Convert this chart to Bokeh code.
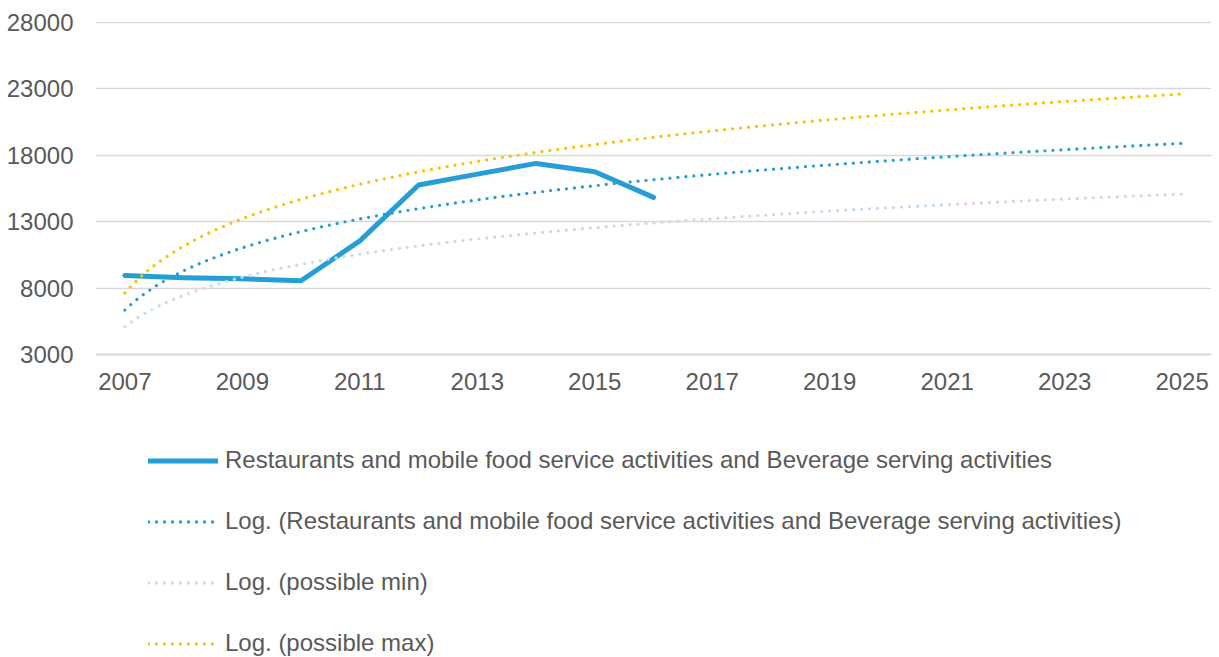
import numpy as np
from bokeh.plotting import figure
from bokeh.models import Legend, LegendItem, FixedTicker, ColumnDataSource
from bokeh.embed import file_html
from bokeh.resources import INLINE

# ---- data ----
years = [2007, 2008, 2009, 2010, 2011, 2012, 2013, 2014, 2015, 2016]
restaurants = [8950, 8780, 8700, 8550, 11560, 15760, 16580, 17390, 16760, 14830]

# trendline values of the two (hidden) bounds, read at each year
trend_years = list(range(2007, 2026))
possible_min_trend = [5100, 7450, 8820, 9800, 10560, 11170, 11700, 12150, 12550, 12910,
                      13230, 13520, 13800, 14050, 14280, 14500, 14700, 14900, 15080]
possible_max_trend = [7630, 11160, 13220, 14690, 15820, 16750, 17540, 18210, 18810, 19350,
                      19840, 20280, 20690, 21060, 21410, 21740, 22050, 22340, 22620]

x_ticks = [2007, 2009, 2011, 2013, 2015, 2017, 2019, 2021, 2023, 2025]
y_ticks = [3000, 8000, 13000, 18000, 23000, 28000]

labels = [
    "Restaurants and mobile food service activities and Beverage serving activities",
    "Log. (Restaurants and mobile food service activities and Beverage serving activities)",
    "Log. (possible min)",
    "Log. (possible max)",
]

BLUE = "#259ed8"
LIGHT = "#c6dcf1"
GOLD = "#ffc000"
TEXT = "#595959"
GRID = "#d9d9d9"
FONT = "Liberation Sans"
FS = "24px"

# Excel-style logarithmic trendlines (x = 1, 2, 3, ... from the first year)
base = years[0] - 1
xt = np.linspace(1, trend_years[-1] - base, 400)


def log_trend(xs, ys):
    k = np.array(xs, dtype=float) - base
    b, a = np.polyfit(np.log(k), np.array(ys, dtype=float), 1)
    return ColumnDataSource(dict(x=xt + base, y=a + b * np.log(xt)))


main_trend_src = log_trend(years, restaurants)
min_trend_src = log_trend(trend_years, possible_min_trend)
max_trend_src = log_trend(trend_years, possible_max_trend)

# layout: 28000 sits 1px below the frame top, 3000 is 333px below it;
# the frame runs down to the bottom of the canvas so the legend fits inside it
TOP = 21
H = 657
unit = (y_ticks[-1] - y_ticks[0]) / 332.0
y_end = y_ticks[-1] + 1 * unit
y_start = y_ticks[0] - (H - 354) * unit

p = figure(width=1219, height=H, output_backend="svg", toolbar_location=None,
           x_range=(2006.5, 2025.5), y_range=(y_start, y_end),
           min_border_left=95, min_border_right=8, min_border_top=TOP,
           min_border_bottom=0)
p.outline_line_color = None
p.background_fill_color = "white"
p.border_fill_color = "white"

DOT = dict(line_width=3.3, line_dash="0 8", line_cap="round")
r_main = p.line(years, restaurants, line_color=BLUE, line_width=5,
                line_join="round", line_cap="round")
r_trend = p.line("x", "y", source=main_trend_src, line_color=BLUE, **DOT)
r_min = p.line("x", "y", source=min_trend_src, line_color=LIGHT, **DOT)
r_max = p.line("x", "y", source=max_trend_src, line_color=GOLD, **DOT)

# axes
p.xaxis.ticker = FixedTicker(ticks=x_ticks)
p.yaxis.ticker = FixedTicker(ticks=y_ticks)
for ax in (p.xaxis[0], p.yaxis[0]):
    ax.major_tick_line_color = None
    ax.minor_tick_line_color = None
    ax.major_tick_out = 0
    ax.major_tick_in = 0
    ax.major_label_text_font = FONT
    ax.major_label_text_font_size = FS
    ax.major_label_text_color = TEXT
p.xaxis.fixed_location = y_ticks[0]
p.xaxis.axis_line_color = GRID
p.xaxis.axis_line_width = 2
p.xaxis.major_label_standoff = 18
p.yaxis.axis_line_color = None
p.yaxis.major_label_standoff = 22

p.xgrid.grid_line_color = None
p.ygrid.grid_line_color = GRID
p.ygrid.grid_line_width = 1.3

legend = Legend(items=[
    LegendItem(label=labels[0], renderers=[r_main]),
    LegendItem(label=labels[1], renderers=[r_trend]),
    LegendItem(label=labels[2], renderers=[r_min]),
    LegendItem(label=labels[3], renderers=[r_max]),
], location=(53, 0), orientation="vertical",
    glyph_width=70, glyph_height=27, label_height=27, spacing=33,
    label_standoff=7, padding=0, margin=0,
    border_line_color=None, background_fill_alpha=0,
    label_text_font=FONT, label_text_font_size=FS,
    label_text_color=TEXT, label_text_baseline="middle")
p.add_layout(legend, "center")

open("out.html", "w").write(file_html(p, INLINE))
